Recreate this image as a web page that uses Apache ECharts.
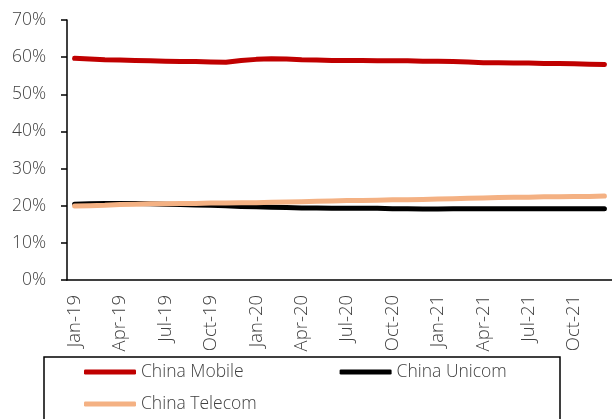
<!DOCTYPE html>
<html><head><meta charset="utf-8">
<script src="https://cdn.jsdelivr.net/npm/echarts@6/dist/echarts.min.js"></script>
<style>html,body{margin:0;padding:0;background:#fff}#c{width:612px;height:419px}</style>
</head><body><div id="c"></div>
<script>
const months = ['Jan','Feb','Mar','Apr','May','Jun','Jul','Aug','Sep','Oct','Nov','Dec'];
const categories = [];
['19','20','21'].forEach(y => months.forEach(m => categories.push(m + '-' + y)));
const yTicks = [0,10,20,30,40,50,60,70];
const chinaMobile = [59.7,59.5,59.3,59.2,59.1,59.0,58.9,58.8,58.8,58.7,58.6,59.1,59.4,59.6,59.5,59.3,59.2,59.1,59.1,59.1,59.0,59.0,59.0,58.9,58.9,58.8,58.7,58.5,58.5,58.4,58.4,58.3,58.3,58.2,58.1,58.0];
const chinaUnicom = [20.4,20.5,20.6,20.6,20.6,20.5,20.4,20.3,20.2,20.1,20.0,19.8,19.7,19.6,19.5,19.4,19.4,19.3,19.3,19.3,19.3,19.2,19.2,19.1,19.1,19.2,19.2,19.2,19.2,19.2,19.2,19.2,19.2,19.2,19.2,19.2];
const chinaTelecom = [19.9,20.0,20.1,20.3,20.4,20.5,20.5,20.6,20.6,20.7,20.7,20.8,20.8,20.9,21.0,21.1,21.2,21.3,21.4,21.4,21.5,21.6,21.6,21.7,21.8,21.9,22.0,22.1,22.2,22.3,22.3,22.4,22.4,22.5,22.5,22.6];

const font = 'Open Sans';
const txt = '#404040';
const fw = 300;
const chart = echarts.init(document.getElementById('c'), null, {renderer:'canvas'});
chart.setOption({
  animation:false,
  grid:{left:67, right:-5, top:20, bottom:139, containLabel:false},
  xAxis:{type:'category', data:categories, boundaryGap:true,
    axisLine:{lineStyle:{color:'#000', width:1.5}},
    axisTick:{interval:2, length:6, lineStyle:{color:'#000', width:1.5}},
    axisLabel:{interval:2, rotate:90, margin:15, color:txt, fontFamily:font, fontWeight:fw, fontSize:18.5}},
  yAxis:{type:'value', min:0, max:70, interval:10,
    axisLine:{show:true, lineStyle:{color:'#000', width:1.5}},
    axisTick:{show:true, length:6, lineStyle:{color:'#000', width:1.5}},
    splitLine:{show:false},
    axisLabel:{margin:21, color:txt, fontFamily:font, fontWeight:fw, fontSize:17.5, formatter:v => yTicks.includes(v) ? v + '%' : ''}},
  legend:[
    {data:['China Mobile','China Unicom'], left:84, top:363, padding:0, icon:'roundRect', itemWidth:52, itemHeight:5, itemGap:96,
     textStyle:{color:txt, fontFamily:font, fontWeight:fw, fontSize:17.5}},
    {data:['China Telecom'], left:84, top:395, padding:0, icon:'roundRect', itemWidth:52, itemHeight:5,
     textStyle:{color:txt, fontFamily:font, fontWeight:fw, fontSize:17.5}}
  ],
  graphic:[{type:'rect', shape:{x:44, y:357, width:516, height:80}, style:{fill:'none', stroke:'#000', lineWidth:1.5}, silent:true}],
  series:[
    {name:'China Mobile', type:'line', data:chinaMobile, showSymbol:false, lineStyle:{color:'#C00000', width:5, cap:'round'}, itemStyle:{color:'#C00000'}},
    {name:'China Unicom', type:'line', data:chinaUnicom, showSymbol:false, lineStyle:{color:'#000000', width:5, cap:'round'}, itemStyle:{color:'#000000'}},
    {name:'China Telecom', type:'line', data:chinaTelecom, showSymbol:false, lineStyle:{color:'#F4B183', width:5, cap:'round'}, itemStyle:{color:'#F4B183'}}
  ]
});
</script></body></html>
